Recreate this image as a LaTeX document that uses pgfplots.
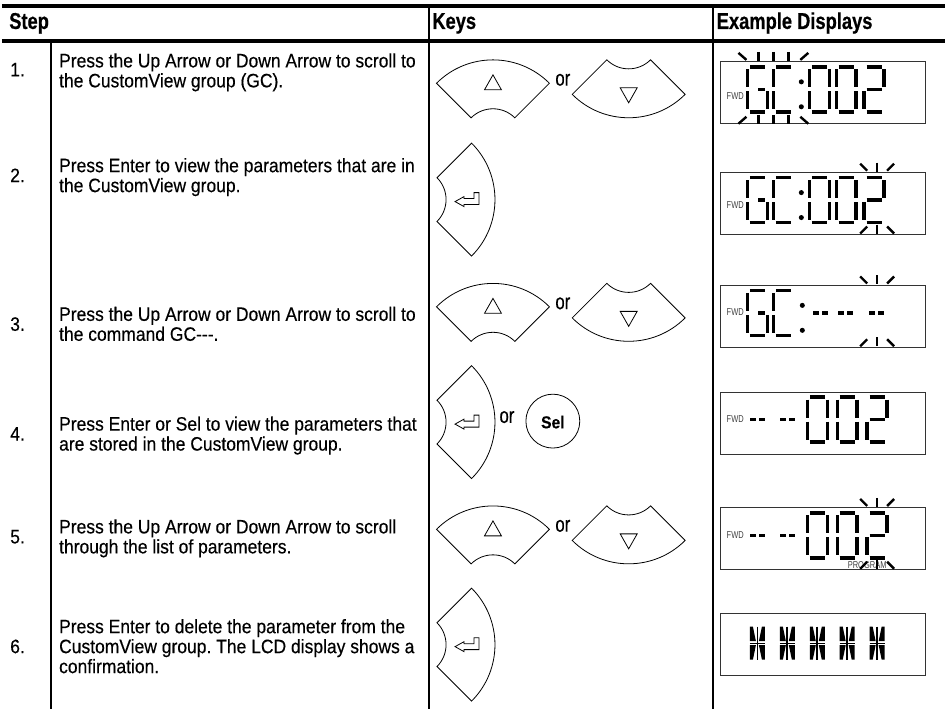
\documentclass[border=0pt]{standalone}
\usepackage{pgfplots}
\pgfplotsset{compat=1.18}
\usepackage{fontspec}
\setmainfont[FakeStretch=0.90,FakeBold=0.35]{Liberation Sans}
\newfontfamily\hdrfont[FakeStretch=0.80,FakeBold=0.6]{Liberation Sans}
\newfontfamily\orfont[FakeStretch=0.76,FakeBold=0.35]{Liberation Sans}
\newfontfamily\smallfont[FakeStretch=0.75]{Liberation Sans}
\frenchspacing
\newcommand\body{\fontsize{14.6}{16}\selectfont}
\newcommand\hdr{\hdrfont\bfseries\fontsize{17.2}{18}\selectfont}
\newcommand\orf{\orfont\fontsize{16.5}{18}\selectfont}
\newcommand\lcdfont{\smallfont\fontsize{7.5}{8}\selectfont}
\tikzset{
  seg/.style={line width=2.6pt, black, line cap=butt},
  ray/.style={line width=1.8pt, black},
  key/.style={line width=0.6pt, black, line join=miter},
  lcd/.style={line width=0.8pt, black!80},
}
\def\W{20}\def\H{45}
\newcommand\segA[2]{\draw[seg] (axis cs:{#1+2.5},{#2}) -- (axis cs:{#1+\W-2.5},{#2});}
\newcommand\segB[2]{\draw[seg] (axis cs:{#1+\W},{#2+2.5}) -- (axis cs:{#1+\W},{#2+\H/2-2});}
\newcommand\segC[2]{\draw[seg] (axis cs:{#1+\W},{#2+\H/2+2}) -- (axis cs:{#1+\W},{#2+\H-2.5});}
\newcommand\segD[2]{\draw[seg] (axis cs:{#1+2.5},{#2+\H}) -- (axis cs:{#1+\W-2.5},{#2+\H});}
\newcommand\segE[2]{\draw[seg] (axis cs:{#1},{#2+\H/2+2}) -- (axis cs:{#1},{#2+\H-2.5});}
\newcommand\segF[2]{\draw[seg] (axis cs:{#1},{#2+2.5}) -- (axis cs:{#1},{#2+\H/2-2});}
\newcommand\segG[2]{\draw[seg] (axis cs:{#1+2.5},{#2+\H/2}) -- (axis cs:{#1+\W-2.5},{#2+\H/2});}
\newcommand\segGr[2]{\draw[seg] (axis cs:{#1+\W/2+1},{#2+\H/2}) -- (axis cs:{#1+\W-2.5},{#2+\H/2});}
\newcommand\dZero[2]{\segA{#1}{#2}\segB{#1}{#2}\segC{#1}{#2}\segD{#1}{#2}\segE{#1}{#2}\segF{#1}{#2}}
\newcommand\dTwo[2]{\segA{#1}{#2}\segB{#1}{#2}\segG{#1}{#2}\segE{#1}{#2}\segD{#1}{#2}}
\newcommand\dC[2]{\segA{#1}{#2}\segF{#1}{#2}\segE{#1}{#2}\segD{#1}{#2}}
\newcommand\dG[2]{\segA{#1}{#2}\segF{#1}{#2}\segE{#1}{#2}\segD{#1}{#2}\segC{#1}{#2}\segGr{#1}{#2}}
\newcommand\dColon[2]{\fill (axis cs:#1,{#2+15}) circle[radius=1.9pt]; \fill (axis cs:#1,{#2+40}) circle[radius=1.9pt];}
\newcommand\dDash[2]{\draw[seg] (axis cs:#1,#2) -- (axis cs:{#1+6},#2); \draw[seg] (axis cs:{#1+9},#2) -- (axis cs:{#1+15},#2);}
\newcommand\raysTop[2]{%
  \draw[ray] (axis cs:{#1-17},{#2-9}) -- (axis cs:{#1-10},{#2-2});
  \draw[ray] (axis cs:#1,{#2-10}) -- (axis cs:#1,{#2-1});
  \draw[ray] (axis cs:{#1+17},{#2-9}) -- (axis cs:{#1+10},{#2-2});}
\newcommand\raysBot[2]{%
  \draw[ray] (axis cs:{#1-17},{#2-1}) -- (axis cs:{#1-10},{#2-8});
  \draw[ray] (axis cs:#1,{#2-10}) -- (axis cs:#1,{#2-1});
  \draw[ray] (axis cs:{#1+17},{#2-1}) -- (axis cs:{#1+10},{#2-8});}
\newcommand\dStar[2]{%
  \fill (axis cs:{#1-7.5},{#2+1}) -- (axis cs:{#1-4.5},{#2+1}) -- (axis cs:{#1-1.5},{#2+15.5}) -- (axis cs:{#1-7.5},{#2+15.5}) -- cycle;
  \fill (axis cs:{#1+7.5},{#2+1}) -- (axis cs:{#1+4.5},{#2+1}) -- (axis cs:{#1+1.5},{#2+15.5}) -- (axis cs:{#1+7.5},{#2+15.5}) -- cycle;
  \fill (axis cs:{#1-7.5},{#2+34}) -- (axis cs:{#1-4.5},{#2+34}) -- (axis cs:{#1-1.5},{#2+19.5}) -- (axis cs:{#1-7.5},{#2+19.5}) -- cycle;
  \fill (axis cs:{#1+7.5},{#2+34}) -- (axis cs:{#1+4.5},{#2+34}) -- (axis cs:{#1+1.5},{#2+19.5}) -- (axis cs:{#1+7.5},{#2+19.5}) -- cycle;
  \draw[line width=1.3pt] (axis cs:#1,{#2+1}) -- (axis cs:#1,{#2+34});
  \draw[line width=0.9pt] (axis cs:{#1-7.5},{#2+17.5}) -- (axis cs:{#1+7.5},{#2+17.5});}
\newcommand\upKey[2]{%
  \draw[key] (axis cs:{#1-56.57},{#2-56.57}) arc[start angle=135,end angle=45,radius=60pt] -- (axis cs:{#1+21.92},{#2-21.92}) arc[start angle=45,end angle=135,radius=23.25pt] -- cycle;
  \draw[key] (axis cs:{#1-8.5},{#2-50}) -- (axis cs:{#1+8.5},{#2-50}) -- (axis cs:#1,{#2-65}) -- cycle;}
\newcommand\downKey[2]{%
  \draw[key] (axis cs:{#1-56.57},{#2+56.57}) arc[start angle=225,end angle=315,radius=60pt] -- (axis cs:{#1+21.92},{#2+21.92}) arc[start angle=315,end angle=225,radius=23.25pt] -- cycle;
  \draw[key] (axis cs:{#1-8.5},{#2+50}) -- (axis cs:{#1+8.5},{#2+50}) -- (axis cs:#1,{#2+65}) -- cycle;}
\newcommand\enterKey[2]{%
  \draw[key] (axis cs:{#1+56.57},{#2-56.57}) arc[start angle=45,end angle=-45,radius=60pt] -- (axis cs:{#1+21.92},{#2+21.92}) arc[start angle=-45,end angle=45,radius=23.25pt] -- cycle;
  \draw[key] (axis cs:{#1+40},{#2+2}) -- (axis cs:{#1+49},{#2-3}) -- (axis cs:{#1+49},{#2-1}) -- (axis cs:{#1+59},{#2-1}) -- (axis cs:{#1+59},{#2-7}) -- (axis cs:{#1+64},{#2-7}) -- (axis cs:{#1+64},{#2+5}) -- (axis cs:{#1+49},{#2+5}) -- (axis cs:{#1+49},{#2+7}) -- cycle;}
\newcommand\lcdbox[1]{\draw[lcd] (axis cs:720,#1) rectangle (axis cs:925,{#1+62});}
\newcommand\fwd[1]{\node[anchor=west, inner sep=0, font=\lcdfont, text=black!75] at (axis cs:726,#1) {FWD};}
\newcommand\txt[3]{\node[anchor=base west, inner sep=0, font=\body] at (axis cs:#1,#2) {#3};}
\begin{document}
\begin{tikzpicture}
\begin{axis}[width=713.25pt, height=532.5pt, scale only axis,
  xmin=0, xmax=951, ymin=0, ymax=710, y dir=reverse,
  hide axis, clip=false]
\path (axis cs:0,0) rectangle (axis cs:951,710);
% table rules
\addplot[black, mark=none, line width=3pt] coordinates {(0,6) (945,6)};
\addplot[black, mark=none, line width=3pt] coordinates {(0,41) (945,41)};
\addplot[black, mark=none, line width=1.9pt] coordinates {(49,41) (49,710)};
\addplot[black, mark=none, line width=1.5pt] coordinates {(428,6) (428,710)};
\addplot[black, mark=none, line width=1.5pt] coordinates {(712,6) (712,710)};
% header
\node[anchor=base west, inner sep=0, font=\hdr] at (axis cs:7,29) {Step};
\node[anchor=base west, inner sep=0, font=\hdr] at (axis cs:431,29) {Keys};
\node[anchor=base west, inner sep=0, font=\hdr] at (axis cs:716,29) {Example Displays};
% step numbers
\txt{8}{76.5}{1.}
\txt{8}{182.5}{2.}
\txt{8}{331.5}{3.}
\txt{8}{441.5}{4.}
\txt{8}{544.5}{5.}
\txt{8}{654.5}{6.}
% step text
\txt{57}{67.5}{Press the Up Arrow or Down Arrow to scroll to}
\txt{57}{87.5}{the CustomView group (GC).}
\txt{57}{172.5}{Press Enter to view the parameters that are in}
\txt{57}{192.5}{the CustomView group.}
\txt{57}{321.5}{Press the Up Arrow or Down Arrow to scroll to}
\txt{57}{341.5}{the command GC{-}{-}{-}.}
\txt{57}{431.5}{Press Enter or Sel to view the parameters that}
\txt{57}{451.5}{are stored in the CustomView group.}
\txt{57}{534.5}{Press the Up Arrow or Down Arrow to scroll}
\txt{57}{554.5}{through the list of parameters.}
\txt{57}{634.5}{Press Enter to delete the parameter from the}
\txt{57}{654.5}{CustomView group. The LCD display shows a}
\txt{57}{674.5}{confirmation.}
% keys
\upKey{492}{140}\downKey{628}{38}
\node[font=\orf, inner sep=0] at (axis cs:562,80) {or};
\enterKey{414}{200}
\upKey{492}{364}\downKey{628}{262}
\node[font=\orf, inner sep=0] at (axis cs:562,304) {or};
\enterKey{414}{423}
\node[font=\orf, inner sep=0] at (axis cs:506,418) {or};
\draw[key] (axis cs:552,422) circle[radius=20.25pt];
\node[font=\fontsize{13}{14}\bfseries\selectfont, inner sep=0] at (axis cs:552,423) {Sel};
\upKey{492}{587}\downKey{628}{485}
\node[font=\orf, inner sep=0] at (axis cs:562,527) {or};
\enterKey{414}{646}
% display 1
\lcdbox{62}\fwd{96}
\dG{747}{67}\dC{773}{67}\dColon{801}{67}\dZero{809}{67}\dZero{836}{67}\dTwo{864}{67}
\draw[ray] (axis cs:738,53) -- (axis cs:746,60);
\draw[ray] (axis cs:758,52) -- (axis cs:758,61);
\draw[ray] (axis cs:773,52) -- (axis cs:773,61);
\draw[ray] (axis cs:788,52) -- (axis cs:788,61);
\draw[ray] (axis cs:808,53) -- (axis cs:800,60);
\draw[ray] (axis cs:738,124) -- (axis cs:746,117);
\draw[ray] (axis cs:758,115) -- (axis cs:758,124);
\draw[ray] (axis cs:773,115) -- (axis cs:773,124);
\draw[ray] (axis cs:788,115) -- (axis cs:788,124);
\draw[ray] (axis cs:808,124) -- (axis cs:800,117);
% display 2
\lcdbox{173}\fwd{205}
\dG{747}{178}\dC{773}{178}\dColon{801}{178}\dZero{809}{178}\dZero{836}{178}\dTwo{864}{178}
\raysTop{877}{173}\raysBot{877}{235}
% display 3
\lcdbox{286}\fwd{313}
\dG{747}{291}\dC{773}{291}\dColon{802}{291}
\dDash{813}{313.5}\dDash{838}{313.5}\dDash{869}{313.5}
\raysTop{877}{286}\raysBot{877}{348}
% display 4
\lcdbox{393}\fwd{420}
\dDash{750}{420.5}\dDash{780}{420.5}
\dZero{807}{398}\dZero{837}{398}\dTwo{867}{398}
% display 5
\lcdbox{509}\fwd{536}
\dDash{750}{536.5}\dDash{780}{536.5}
\dZero{807}{514}\dZero{837}{514}\dTwo{867}{514}
\node[font=\lcdfont, text=black!75, inner sep=0] at (axis cs:867,566) {PROGRAM};
\raysTop{877}{509}\raysBot{877}{571}
% display 6
\lcdbox{615}
\dStar{757}{627}\dStar{787}{627}\dStar{817}{627}\dStar{847}{627}\dStar{877}{627}
\end{axis}
\end{tikzpicture}
\end{document}
